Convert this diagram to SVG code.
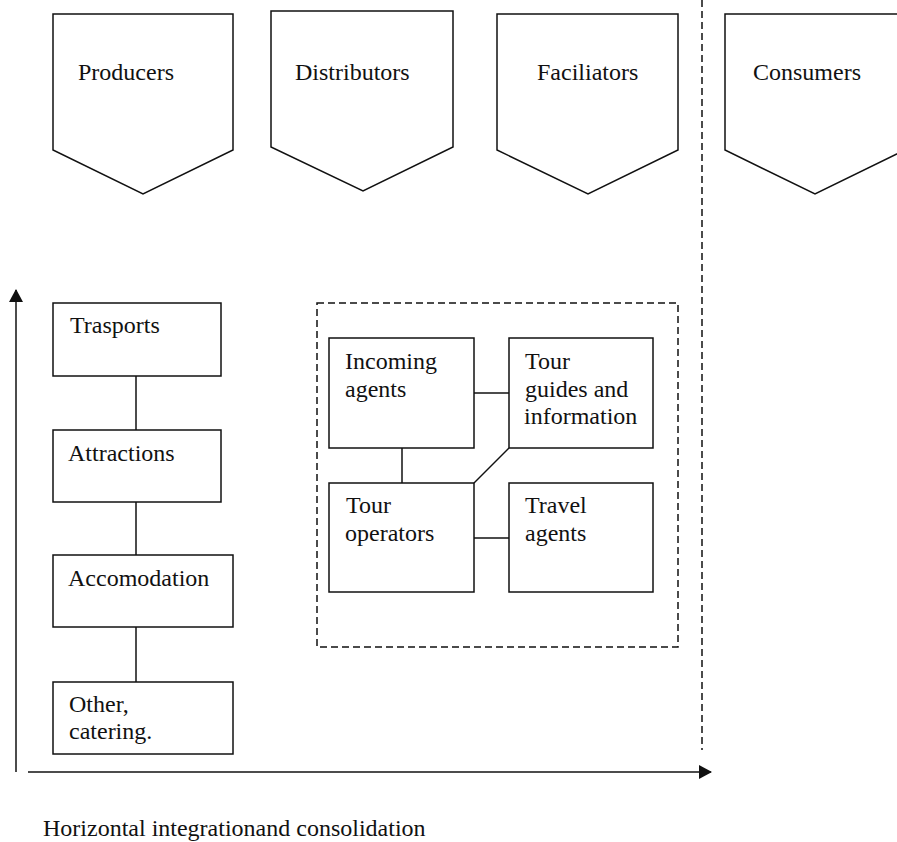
<svg xmlns="http://www.w3.org/2000/svg" width="897" height="842" viewBox="0 0 897 842">
<style>
  .shape { fill: #ffffff; stroke: #111111; stroke-width: 1.5; }
  .line { fill: none; stroke: #111111; stroke-width: 1.5; }
  .dash { fill: none; stroke: #111111; stroke-width: 1.5; stroke-dasharray: 7 4; }
  text { font-family: "Liberation Serif", "Times New Roman", serif; font-size: 24px; fill: #111111; }
</style>
<defs>
  <marker id="arrow" viewBox="0 0 10 10" refX="9" refY="5" markerWidth="9" markerHeight="9" markerUnits="userSpaceOnUse" orient="auto">
    <path d="M0,0 L10,5 L0,10 Z" fill="#111111"/>
  </marker>
  <marker id="arrowBig" viewBox="0 0 13 14" refX="12" refY="7" markerWidth="13" markerHeight="14" markerUnits="userSpaceOnUse" orient="auto">
    <path d="M0,0 L13,7 L0,14 Z" fill="#111111"/>
  </marker>
</defs>
<rect width="897" height="842" fill="#ffffff"/>

<g id="producers">
  <polygon class="shape" points="53,14 233,14 233,150 143,194 53,150"/>
  <text x="78" y="80">Producers</text>
</g>
<g id="distributors">
  <polygon class="shape" points="271,11 453,11 453,147 363,191 271,147"/>
  <text x="295" y="80">Distributors</text>
</g>
<g id="faciliators">
  <polygon class="shape" points="497,14 678,14 678,150 588,194 497,150"/>
  <text x="537" y="80">Faciliators</text>
</g>
<g id="consumers">
  <polygon class="shape" points="725,14 905,14 905,150 815,194 725,150"/>
  <text x="753" y="80">Consumers</text>
</g>

<g id="connectors">
  <line class="dash" x1="702" y1="0" x2="702" y2="750"/>
  <rect class="dash" x="317" y="303" width="361" height="344"/>
  <line class="line" x1="16" y1="772" x2="16" y2="290" marker-end="url(#arrowBig)"/>
  <line class="line" x1="28" y1="772" x2="711" y2="772" marker-end="url(#arrowBig)"/>
  <line class="line" x1="136" y1="376" x2="136" y2="430"/>
  <line class="line" x1="136" y1="502" x2="136" y2="555"/>
  <line class="line" x1="136" y1="627" x2="136" y2="682"/>
  <line class="line" x1="474" y1="393" x2="509" y2="393"/>
  <line class="line" x1="402" y1="448" x2="402" y2="483"/>
  <line class="line" x1="509" y1="448" x2="474" y2="483"/>
  <line class="line" x1="474" y1="538" x2="509" y2="538"/>
</g>

<g id="trasports">
  <rect class="shape" x="53" y="303" width="168" height="73"/>
  <text x="70" y="333">Trasports</text>
</g>
<g id="attractions">
  <rect class="shape" x="53" y="430" width="168" height="72"/>
  <text x="68" y="461">Attractions</text>
</g>
<g id="accomodation">
  <rect class="shape" x="53" y="555" width="180" height="72"/>
  <text x="68" y="586">Accomodation</text>
</g>
<g id="other">
  <rect class="shape" x="53" y="682" width="180" height="72"/>
  <text x="69" y="712">Other,<tspan x="69" y="739">catering.</tspan></text>
</g>

<g id="incoming-agents">
  <rect class="shape" x="329" y="338" width="145" height="110"/>
  <text x="345" y="369">Incoming<tspan x="345" y="397">agents</tspan></text>
</g>
<g id="tour-guides">
  <rect class="shape" x="509" y="338" width="144" height="110"/>
  <text x="525" y="369">Tour<tspan x="525" y="397">guides and</tspan><tspan x="524" y="424">information</tspan></text>
</g>
<g id="tour-operators">
  <rect class="shape" x="329" y="483" width="145" height="109"/>
  <text x="346" y="513">Tour<tspan x="345" y="541">operators</tspan></text>
</g>
<g id="travel-agents">
  <rect class="shape" x="509" y="483" width="144" height="109"/>
  <text x="525" y="513">Travel<tspan x="525" y="541">agents</tspan></text>
</g>

<text id="axis-label" x="43" y="836">Horizontal integrationand consolidation</text>
</svg>
